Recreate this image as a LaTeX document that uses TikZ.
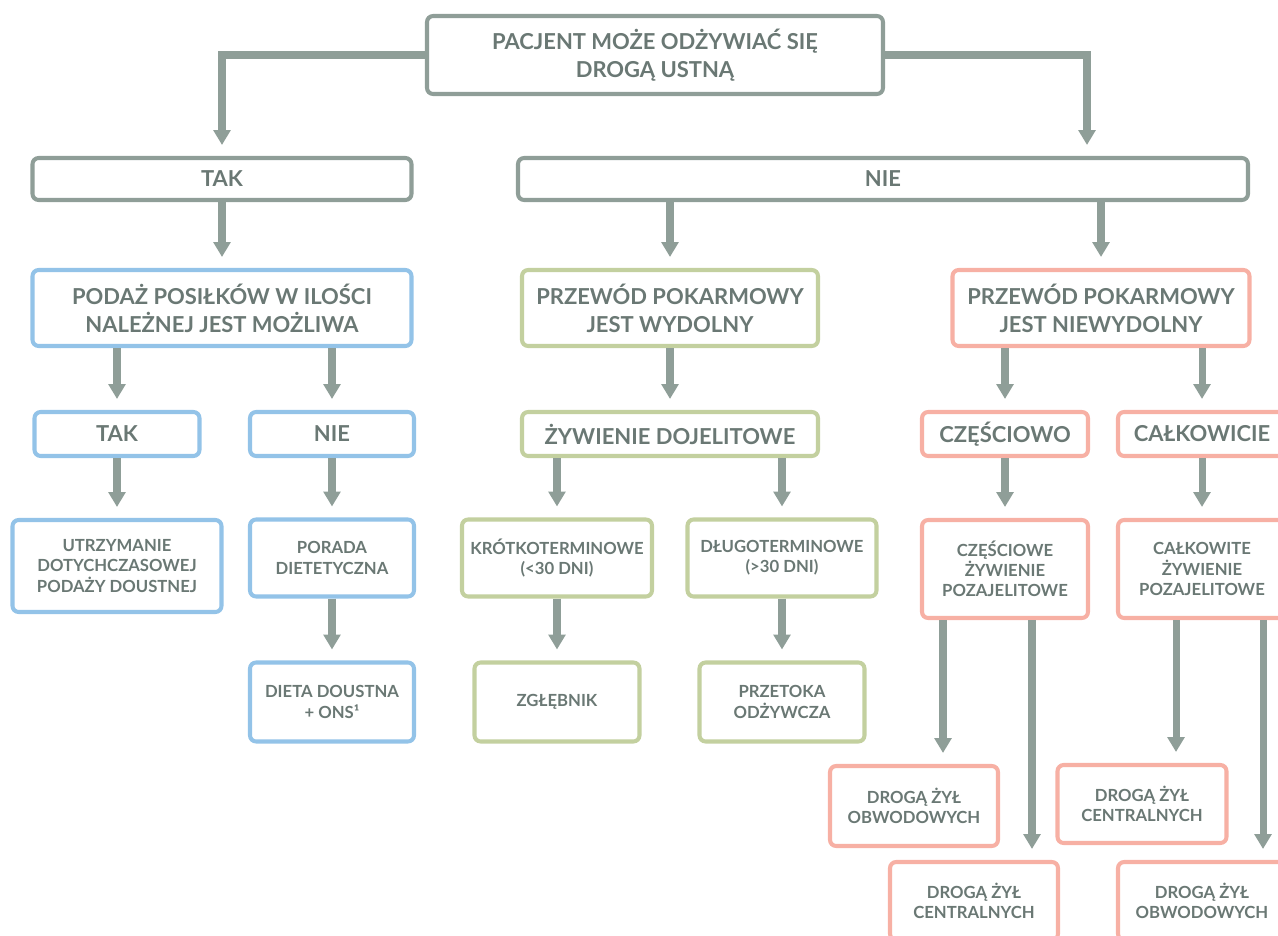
\documentclass[tikz,border=0pt]{standalone}
\usepackage{fontspec}
\setmainfont{Lato}
\usetikzlibrary{arrows.meta, calc}
\definecolor{txtgray}{HTML}{6A7874}
\definecolor{boxgray}{HTML}{8F9E98}
\definecolor{boxblue}{HTML}{93C3E8}
\definecolor{boxgreen}{HTML}{C3D09F}
\definecolor{boxpink}{HTML}{F7B0A4}
\tikzset{
  sz/.style 2 args={minimum width=#1*0.02cm, minimum height=#2*0.02cm},
  box/.style={draw, line width=2.3pt, rounded corners=3.5pt, fill=white,
    align=center, text=txtgray, inner sep=0pt,
    font=\bfseries\fontsize{12.5}{16}\selectfont},
  small/.style={font=\bfseries\fontsize{9.5}{11.5}\selectfont},
  gbox/.style={box, draw=boxgray},
  bbox/.style={box, draw=boxblue},
  ebox/.style={box, draw=boxgreen},
  pbox/.style={box, draw=boxpink},
  arr/.style={draw=boxgray, line width=4pt,
    -{Triangle[width=9.5pt,length=8.5pt]}, shorten >=0.22cm}
}
\begin{document}
\begin{tikzpicture}[x=0.02cm, y=-0.02cm]
  \useasboundingbox (0,0) rectangle (1278,936);
  % level 1 and 2
  \node[gbox, sz={456}{78}]  (top)   at (655, 55)  {PACJENT MOŻE ODŻYWIAĆ SIĘ\\DROGĄ USTNĄ};
  \node[gbox, sz={379}{42}]  (tak)   at (222, 179) {TAK};
  \node[gbox, sz={730}{42}]  (nie)   at (883, 179) {NIE};
  % level 3
  \node[bbox, sz={379}{76}]  (podaz) at (222, 308) {PODAŻ POSIŁKÓW W ILOŚCI\\NALEŻNEJ JEST MOŻLIWA};
  \node[ebox, sz={296}{76}]  (wyd)   at (670, 308) {PRZEWÓD POKARMOWY\\JEST WYDOLNY};
  \node[pbox, sz={297}{76}]  (niew)  at (1101,308) {PRZEWÓD POKARMOWY\\JEST NIEWYDOLNY};
  % level 4
  \node[bbox, sz={165}{44}]  (tak2)  at (117, 434) {TAK};
  \node[bbox, sz={164}{44}]  (nie2)  at (332, 434) {NIE};
  \node[ebox, sz={296}{44}]  (dojel) at (670, 434) {ŻYWIENIE DOJELITOWE};
  \node[pbox, sz={166}{44}]  (czesc) at (1005,434) {CZĘŚCIOWO};
  \node[pbox, sz={168}{44}]  (calk)  at (1202,434) {CAŁKOWICIE};
  % level 5
  \node[bbox, small, sz={209}{92}] (utrz)   at (117, 566) {UTRZYMANIE\\DOTYCHCZASOWEJ\\PODAŻY DOUSTNEJ};
  \node[bbox, small, sz={164}{77}] (porada) at (332, 558) {PORADA\\DIETETYCZNA};
  \node[ebox, small, sz={190}{77}] (krotko) at (557, 558) {KRÓTKOTERMINOWE\\(<30 DNI)};
  \node[ebox, small, sz={189}{77}] (dlugo)  at (782, 558) {DŁUGOTERMINOWE\\(>30 DNI)};
  \node[pbox, small, sz={166}{98}] (czp)    at (1005,569) {CZĘŚCIOWE\\ŻYWIENIE\\POZAJELITOWE};
  \node[pbox, small, sz={168}{98}] (cap)    at (1202,569) {CAŁKOWITE\\ŻYWIENIE\\POZAJELITOWE};
  % level 6
  \node[bbox, small, sz={164}{79}] (dieta)  at (332, 702) {DIETA DOUSTNA\\+ ONS¹};
  \node[ebox, small, sz={165}{79}] (zglab)  at (557, 702) {ZGŁĘBNIK};
  \node[ebox, small, sz={165}{79}] (przet)  at (782, 702) {PRZETOKA\\ODŻYWCZA};
  % level 7
  \node[pbox, small, sz={168}{80}] (obw1)   at (914, 806) {DROGĄ ŻYŁ\\OBWODOWYCH};
  \node[pbox, small, sz={169}{78}] (cen1)   at (1142,804) {DROGĄ ŻYŁ\\CENTRALNYCH};
  \node[pbox, small, sz={168}{78}] (cen2)   at (974, 901) {DROGĄ ŻYŁ\\CENTRALNYCH};
  \node[pbox, small, sz={168}{78}] (obw2)   at (1202,901) {DROGĄ ŻYŁ\\OBWODOWYCH};
  % connectors
  \draw[arr] (top.west) -| (tak.north);
  \draw[arr] (top.east) -| ($(nie.north)+(204,0)$);
  \draw[arr] (tak) -- (podaz);
  \draw[arr] (nie.south -| wyd) -- (wyd);
  \draw[arr] (nie.south -| niew) -- (niew);
  \draw[arr] (podaz.south -| tak2) -- (tak2);
  \draw[arr] (podaz.south -| nie2) -- (nie2);
  \draw[arr] (wyd) -- (dojel);
  \draw[arr] (niew.south -| czesc) -- (czesc);
  \draw[arr] (niew.south -| calk) -- (calk);
  \draw[arr] (tak2) -- (utrz);
  \draw[arr] (nie2) -- (porada);
  \draw[arr] (dojel.south -| krotko) -- (krotko);
  \draw[arr] (dojel.south -| dlugo) -- (dlugo);
  \draw[arr] (czesc) -- (czp);
  \draw[arr] (calk) -- (cap);
  \draw[arr] (porada) -- (dieta);
  \draw[arr] (krotko) -- (zglab);
  \draw[arr] (dlugo) -- (przet);
  \draw[arr] ($(czp.south)+(-62,0)$) -- ($(obw1.north)+(29,0)$);
  \draw[arr] ($(czp.south)+(27,0)$) -- ($(cen2.north)+(58,0)$);
  \draw[arr] ($(cap.south)+(-26,0)$) -- ($(cen1.north)+(34,0)$);
  \draw[arr] ($(cap.south)+(61,0)$) -- ($(obw2.north)+(61,0)$);
\end{tikzpicture}
\end{document}
